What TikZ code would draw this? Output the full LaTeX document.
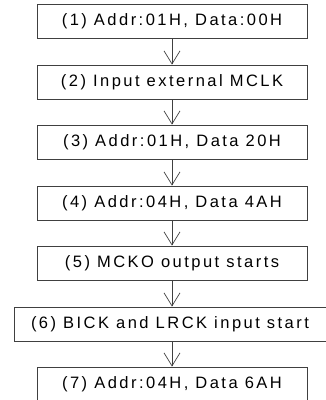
\documentclass[tikz,border=0pt]{standalone}
\usepackage{fontspec}
\setmainfont{Liberation Sans}[LetterSpace=15]
\usetikzlibrary{arrows.meta}
\begin{document}
\begin{tikzpicture}[x=1pt,y=-1pt,
  stepbox/.style={draw=black!75,line width=0.9pt,minimum height=34pt,inner sep=0pt,font=\fontsize{16.5}{19}\selectfont},
  flow/.style={draw=black!75,line width=0.7pt,-{Straight Barb[length=13pt,width=16pt,line width=0.7pt]}}]
\useasboundingbox (0,0) rectangle (325,400);
\node[stepbox,minimum width=270pt] (s1) at (172,21) {(1) Addr:01H, Data:00H};
\node[stepbox,minimum width=270pt] (s2) at (172,82) {(2) Input external MCLK};
\node[stepbox,minimum width=270pt] (s3) at (172,142) {(3) Addr:01H, Data 20H};
\node[stepbox,minimum width=270pt] (s4) at (172,203) {(4) Addr:04H, Data 4AH};
\node[stepbox,minimum width=270pt] (s5) at (172,263) {(5) MCKO output starts};
\node[stepbox,minimum width=312pt] (s6) at (170,324) {(6) BICK and LRCK input start};
\node[stepbox,minimum width=270pt] (s7) at (172,384) {(7) Addr:04H, Data 6AH};
\draw[flow] (s1.south) -- (s2.north);
\draw[flow] (s2.south) -- (s3.north);
\draw[flow] (s3.south) -- (s4.north);
\draw[flow] (s4.south) -- (s5.north);
\draw[flow] (s5.south -| s4.south) -- (s6.north -| s4.south);
\draw[flow] (s6.south -| s4.south) -- (s7.north);
\end{tikzpicture}
\end{document}
